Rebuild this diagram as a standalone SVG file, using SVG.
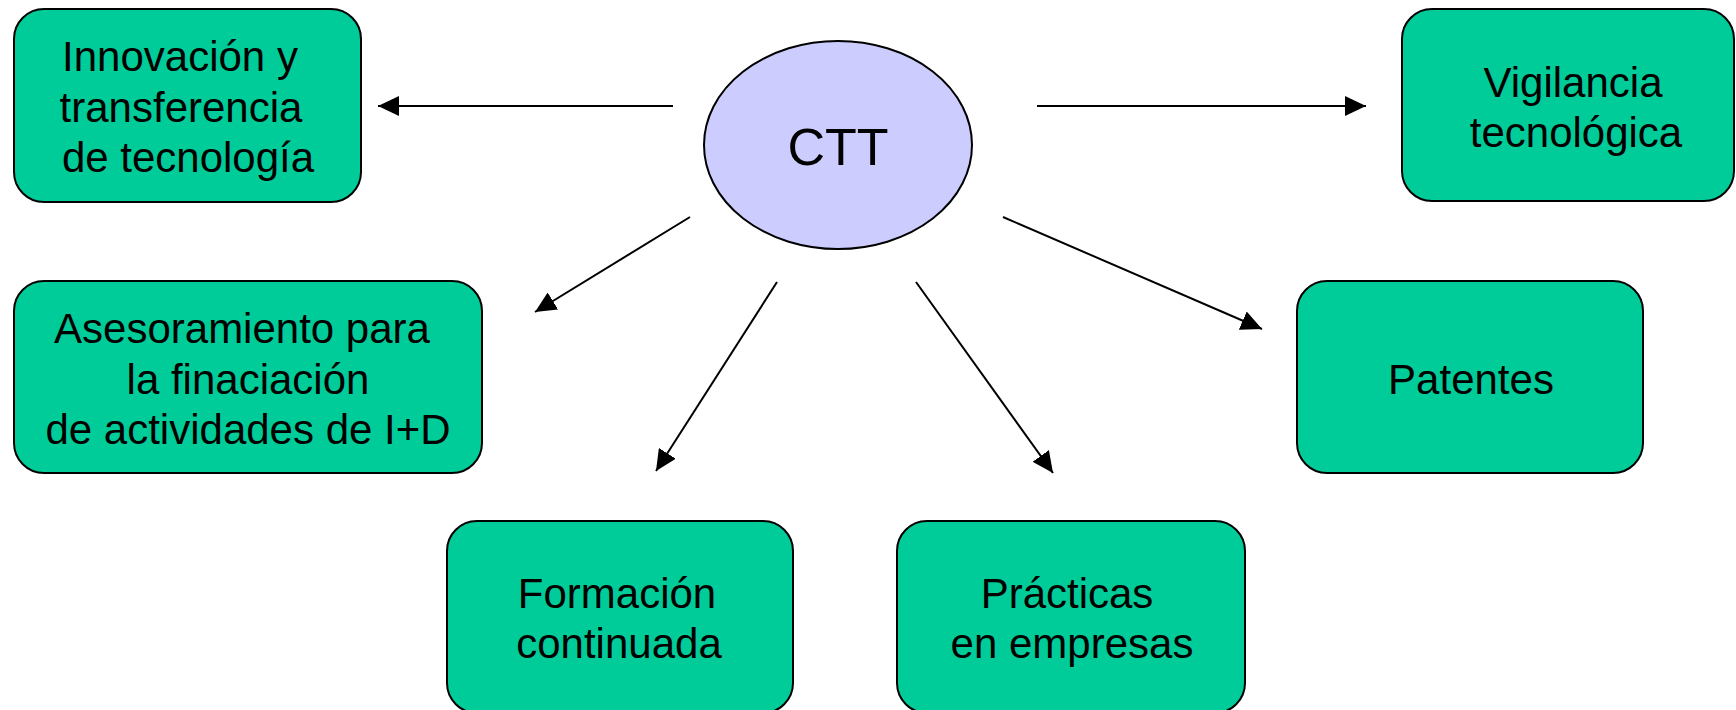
<svg xmlns="http://www.w3.org/2000/svg" width="1736" height="710" viewBox="0 0 1736 710">
<style>
.box{fill:#00CC99;stroke:#000;stroke-width:2}
.ell{fill:#CCCCFF;stroke:#000;stroke-width:2}
.t{font-family:"Liberation Sans",Arial,sans-serif;font-size:42px;fill:#000;text-anchor:middle}
.big{font-size:52px}
.c{stroke:#000;stroke-width:2;fill:none;marker-end:url(#ah)}
</style>
<defs>
<marker id="ah" markerUnits="userSpaceOnUse" viewBox="0 0 21 20" refX="21" refY="10" markerWidth="21" markerHeight="20" orient="auto">
<path d="M0,0 L21,10 L0,20 z" fill="#000"/>
</marker>
</defs>
<rect width="1736" height="710" fill="#fff"/>
<g id="connectors">
<line class="c" x1="673" y1="106" x2="378" y2="106"/>
<line class="c" x1="1037" y1="106" x2="1366" y2="106"/>
<line class="c" x1="690" y1="217" x2="535" y2="312"/>
<line class="c" x1="777" y1="282" x2="656" y2="471"/>
<line class="c" x1="916" y1="282" x2="1053" y2="473"/>
<line class="c" x1="1003" y1="217" x2="1262" y2="329"/>
</g>
<g id="ctt">
<ellipse class="ell" cx="838" cy="145" rx="134" ry="104"/>
<text class="t big" x="838" y="165">CTT</text>
</g>
<g id="innovacion">
<rect class="box" x="14" y="9" width="347" height="193" rx="30"/>
<text class="t" x="180" y="71">Innovación y</text>
<text class="t" x="181" y="122">transferencia</text>
<text class="t" x="188" y="172">de tecnología</text>
</g>
<g id="vigilancia">
<rect class="box" x="1402" y="9" width="332" height="192" rx="30"/>
<text class="t" x="1573" y="97">Vigilancia</text>
<text class="t" x="1576" y="147">tecnológica</text>
</g>
<g id="asesoramiento">
<rect class="box" x="14" y="281" width="468" height="192" rx="30"/>
<text class="t" x="242" y="343">Asesoramiento para</text>
<text class="t" x="248" y="394">la finaciación</text>
<text class="t" x="248" y="444">de actividades de I+D</text>
</g>
<g id="patentes">
<rect class="box" x="1297" y="281" width="346" height="192" rx="30"/>
<text class="t" x="1471" y="394">Patentes</text>
</g>
<g id="formacion">
<rect class="box" x="447" y="521" width="346" height="192" rx="30"/>
<text class="t" x="617" y="608">Formación</text>
<text class="t" x="619" y="658">continuada</text>
</g>
<g id="practicas">
<rect class="box" x="897" y="521" width="348" height="192" rx="30"/>
<text class="t" x="1067" y="608">Prácticas</text>
<text class="t" x="1072" y="658">en empresas</text>
</g>
</svg>
